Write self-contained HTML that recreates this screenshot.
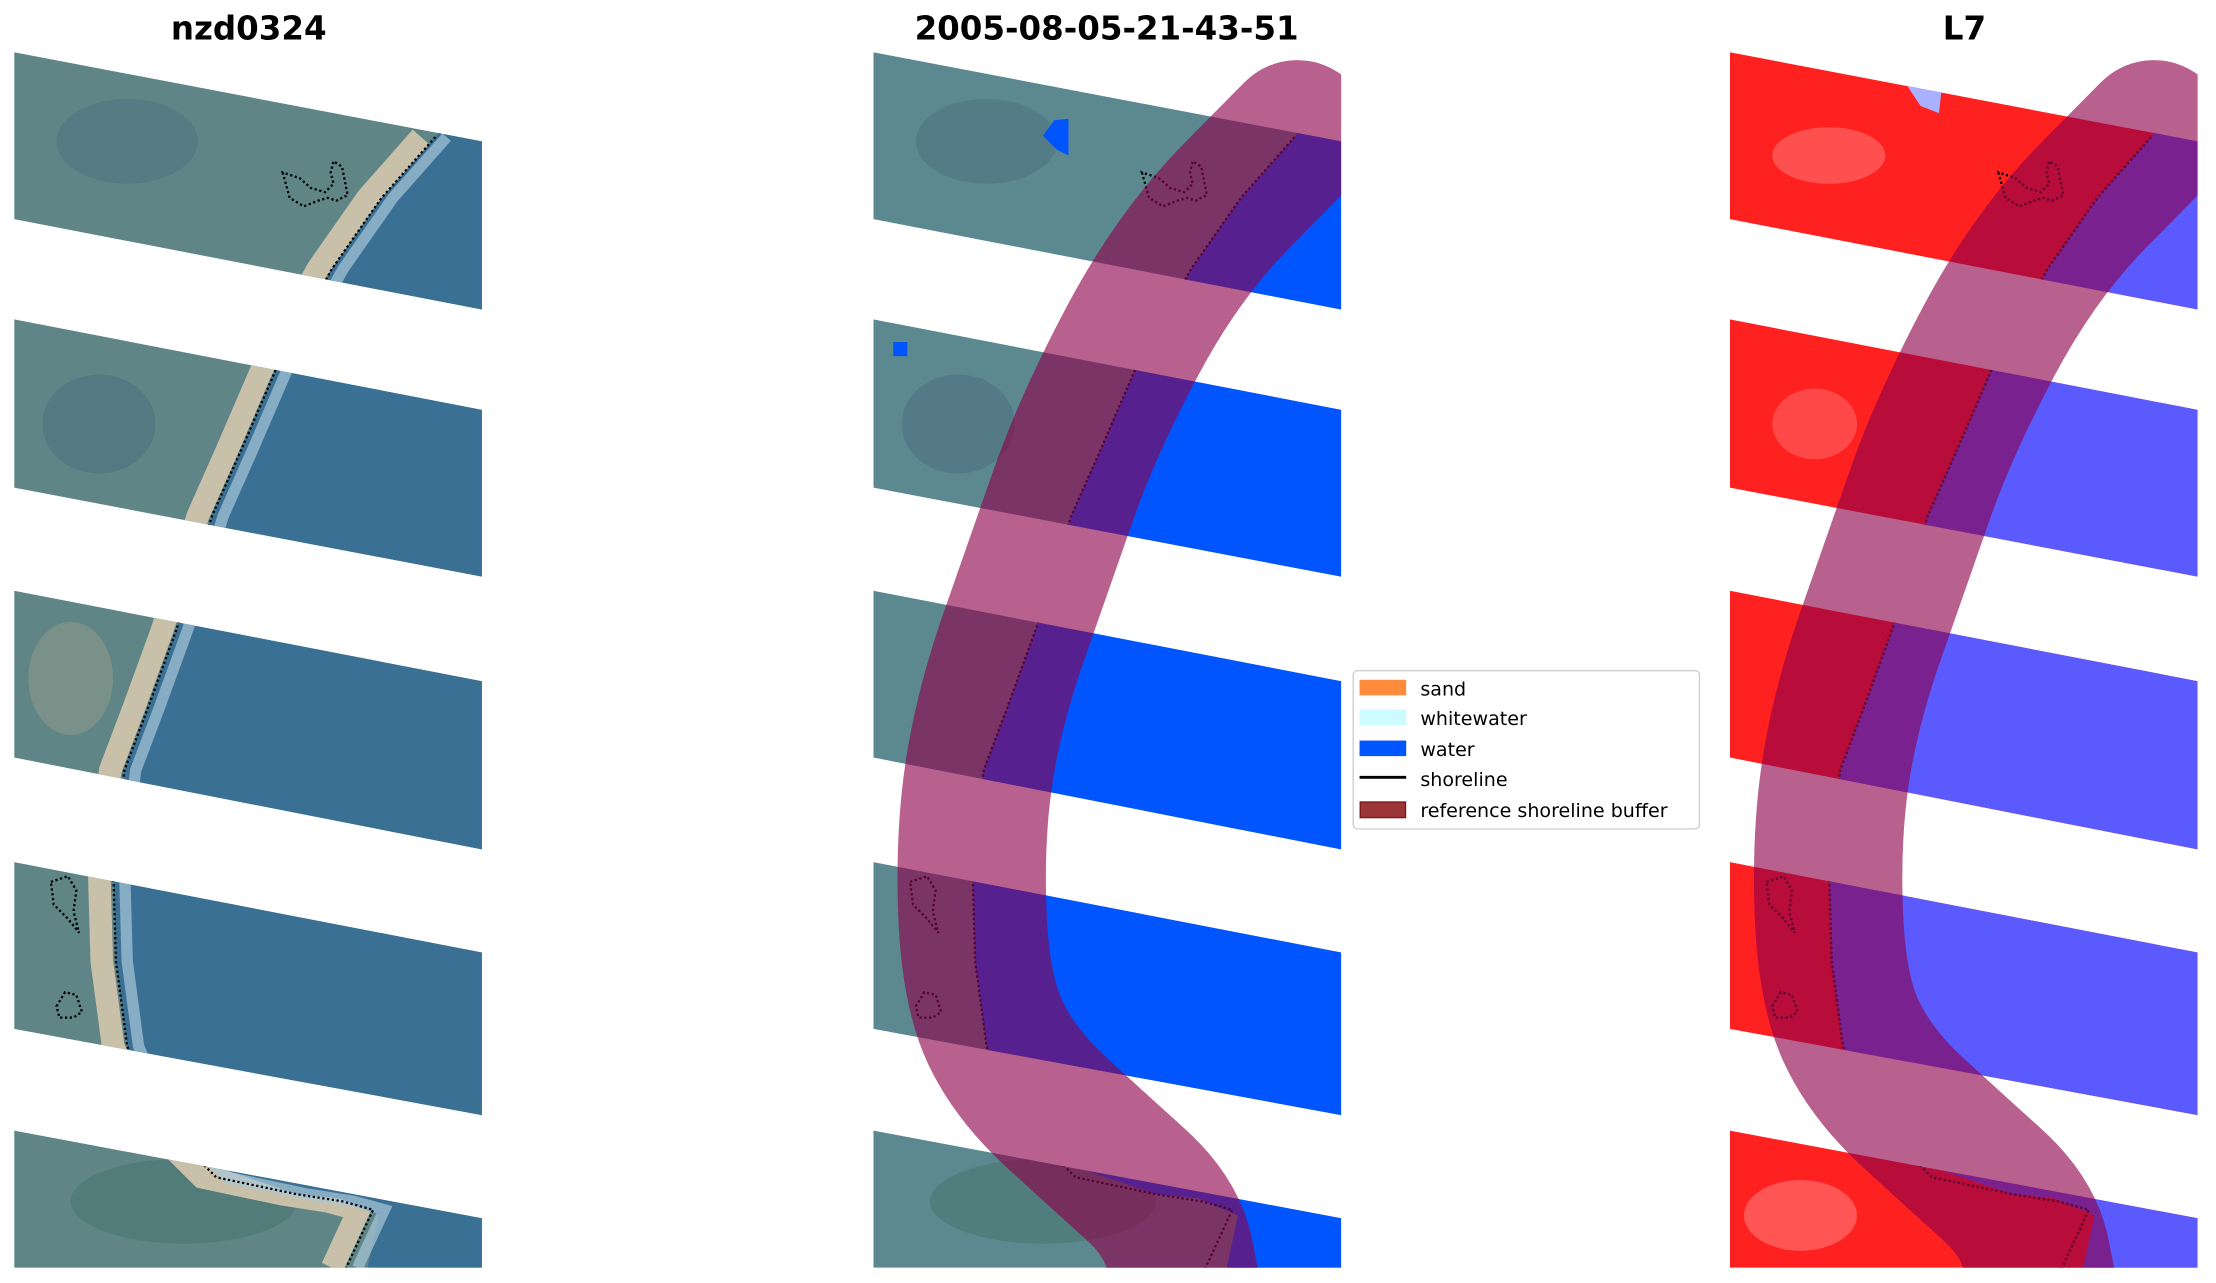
<!DOCTYPE html>
<html><head><meta charset="utf-8"><style>
html,body{margin:0;padding:0;background:#fff;}
svg{display:block;}
</style></head><body>
<svg width="2216" height="1283" viewBox="0 0 1568 907.8" xmlns="http://www.w3.org/2000/svg">
<defs>
<clipPath id="strips">
<polygon points="0,37 331,100 331,219 0,155"/>
<polygon points="0,226 331,290 331,408 0,345"/>
<polygon points="0,418 331,482 331,601 0,536"/>
<polygon points="0,610 331,674 331,789 0,728"/>
<polygon points="0,800 331,862 331,897 0,897"/>
</clipPath>
<clipPath id="axes"><rect x="0" y="37" width="331" height="860"/></clipPath>
<path id="shore" d="M298,97 L260,140 L225,190 L185,262 L160,320 L140,365 L115,445 L95,500 L78,545 L70,610 L72,680 L80,740 L100,790 L143,833 L200,845 L232,850 L254,856 L235,897"/>
<path id="water" d="M298,97 L260,140 L225,190 L185,262 L160,320 L140,365 L115,445 L95,500 L78,545 L70,610 L72,680 L80,740 L100,790 L150,828 L200,845 L230,848 L258,860 L250,897 L340,900 L340,30 Z"/>
<path id="buf" d="M300,95 L258,137.5 Q216,180 184,240 Q152,300 134.5,350 Q117,400 99.5,450 Q82,500 75,545 Q68,590 70,645 Q72,700 86,730 Q100,760 130,787.5 Q160,815 185,837.5 Q210,860 216,885 L222,915" fill="none" stroke="rgb(140,0,74)" stroke-opacity="0.62" stroke-width="105" stroke-linecap="round" stroke-linejoin="round"/>
<g id="lakes" fill="none" stroke="#000" stroke-width="1.6" stroke-dasharray="1.6 1.8">
<path d="M190,122 L195,140 L205,146 L215,142 L222,140 L228,142 L236,138 L234,128 L232,118 L226,114 L224,122 L226,130 L220,136 L210,133 L202,126 Z"/>
<path d="M26,624 L38,620 L44,630 L42,645 L46,660 L38,650 L28,640 Z"/>
<path d="M30,712 L36,702 L44,704 L48,716 L42,720 L32,720 Z"/>
</g>
</defs>
<g font-family="DejaVu Sans, Liberation Sans, sans-serif" font-weight="bold" font-size="23" text-anchor="middle" fill="#000">
<text x="176" y="28">nzd0324</text>
<text x="783" y="28">2005-08-05-21-43-51</text>
<text x="1390" y="28">L7</text>
</g>
<!-- Panel 1 -->
<g transform="translate(10,0)">
<g clip-path="url(#strips)">
<rect x="0" y="30" width="340" height="870" fill="#5f8587"/>
<ellipse cx="80" cy="100" rx="50" ry="30" fill="#4e7480" opacity="0.6"/>
<ellipse cx="60" cy="300" rx="40" ry="35" fill="#4c7280" opacity="0.6"/>
<ellipse cx="40" cy="480" rx="30" ry="40" fill="#8a9a88" opacity="0.6"/>
<ellipse cx="120" cy="850" rx="80" ry="30" fill="#4a7670" opacity="0.6"/>
<use href="#shore" transform="translate(-10,0)" fill="none" stroke="#c8c0a8" stroke-width="16"/>
<use href="#water" fill="#3b7095"/>
<use href="#shore" transform="translate(8,0)" fill="none" stroke="#a8c8d8" stroke-width="8" opacity="0.7"/>
<use href="#shore" fill="none" stroke="#000" stroke-width="1.6" stroke-dasharray="1.6 1.8"/>
<use href="#lakes"/>
</g>
</g>
<!-- Panel 2 -->
<g transform="translate(618,0)">
<g clip-path="url(#strips)">
<rect x="0" y="30" width="340" height="870" fill="#5c8890"/>
<ellipse cx="80" cy="100" rx="50" ry="30" fill="#4e7480" opacity="0.6"/>
<ellipse cx="60" cy="300" rx="40" ry="35" fill="#4c7280" opacity="0.6"/>
<ellipse cx="120" cy="850" rx="80" ry="30" fill="#4a7670" opacity="0.6"/>
<path d="M128,85 L138,84 L138,110 L130,106 L120,96 Z" fill="#0055ff"/>
<rect x="14" y="242" width="10" height="10" fill="#0055ff"/>
<use href="#water" fill="#0055ff"/>
<use href="#shore" fill="none" stroke="#000" stroke-width="1.6" stroke-dasharray="1.6 1.8"/>
<use href="#lakes"/>
</g>
<g clip-path="url(#axes)"><use href="#buf"/></g>
</g>
<!-- Panel 3 -->
<g transform="translate(1224,0)">
<g clip-path="url(#strips)">
<rect x="0" y="30" width="340" height="870" fill="#ff2020"/>
<ellipse cx="70" cy="110" rx="40" ry="20" fill="#ff8080" opacity="0.5"/>
<ellipse cx="60" cy="300" rx="30" ry="25" fill="#ff7070" opacity="0.5"/>
<ellipse cx="50" cy="860" rx="40" ry="25" fill="#ff8a8a" opacity="0.5"/>
<path d="M125,60 L150,62 L148,80 L135,75 Z" fill="#a8b0ff"/>
<use href="#water" fill="#5a5aff"/>
<use href="#shore" fill="none" stroke="#000" stroke-width="1.6" stroke-dasharray="1.6 1.8"/>
<use href="#lakes"/>
</g>
<g clip-path="url(#axes)"><use href="#buf"/></g>
</g>
<!-- Legend -->
<g font-family="DejaVu Sans, Liberation Sans, sans-serif" font-size="13.5" fill="#000">
<rect x="957.5" y="474.5" width="245" height="112" rx="3" fill="#fff" stroke="#d0d0d0" stroke-width="1"/>
<rect x="962" y="481" width="33" height="11" fill="#ff8c3a"/>
<text x="1005" y="492">sand</text>
<rect x="962" y="502" width="33" height="11" fill="#ccfcff"/>
<text x="1005" y="513">whitewater</text>
<rect x="962" y="524" width="33" height="11" fill="#0055ff"/>
<text x="1005" y="535">water</text>
<line x1="962" y1="550" x2="995" y2="550" stroke="#000" stroke-width="2"/>
<text x="1005" y="556">shoreline</text>
<rect x="962.5" y="567.5" width="32" height="11" fill="#9c3535" stroke="#7a1a1a"/>
<text x="1005" y="578">reference shoreline buffer</text>
</g>
</svg>
</body></html>
